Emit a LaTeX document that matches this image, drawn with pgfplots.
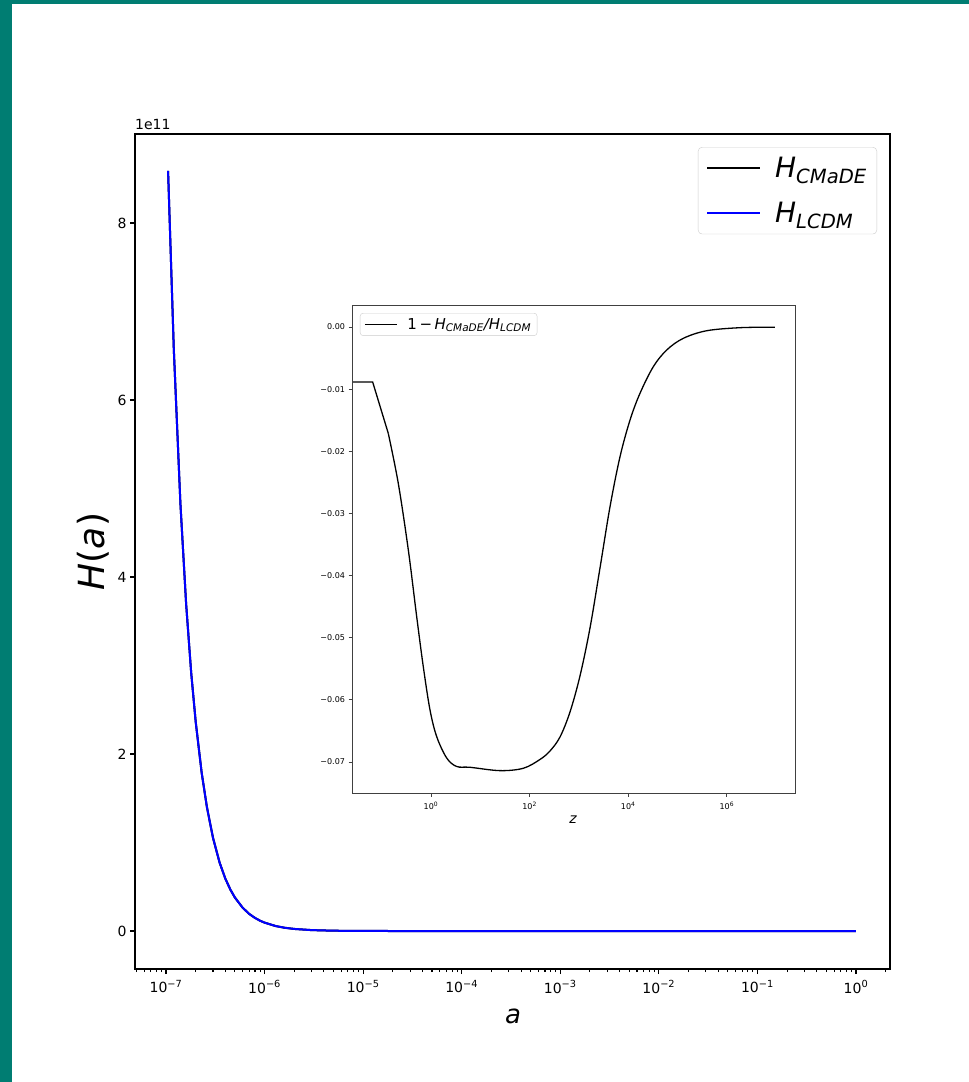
\documentclass[border=0pt]{standalone}
\usepackage{pgfplots}
\pgfplotsset{compat=1.18}
\usepackage{amsmath}
\usepackage{fontspec}
\setmainfont{DejaVu Sans}
\definecolor{teal2}{RGB}{0,125,114}
\definecolor{lgray}{gray}{0.8}
\newcommand{\fs}[1]{\fontsize{#1}{#1}\selectfont}
\newcommand{\Hs}[1]{\textit{H}$_{\text{\itshape #1}}$}
\newcommand{\tp}[1]{10$^{\text{#1}}$}
\begin{document}
\begin{tikzpicture}[x=1pt,y=1pt]
\fill[white] (0,0) rectangle (969,-1082);
\fill[teal2] (0,0) rectangle (969,-4);
\fill[teal2] (0,0) rectangle (12,-1082);
\begin{axis}[at={(135pt,-969pt)}, anchor=south west, width=755pt, height=835pt, scale only axis,
  clip=false,
  xmode=log, xmin=4.847e-8, xmax=2.213, ymin=-0.429e11, ymax=9.006e11,
  xtick={1e-7,1e-6,1e-5,1e-4,1e-3,1e-2,1e-1,1},
  xticklabels={\tp{−7},\tp{−6},\tp{−5},\tp{−4},\tp{−3},\tp{−2},\tp{−1},\tp{0}},
  minor xtick={5e-8,6e-8,7e-8,8e-8,9e-8,
    2e-7,3e-7,4e-7,5e-7,6e-7,7e-7,8e-7,9e-7,
    2e-6,3e-6,4e-6,5e-6,6e-6,7e-6,8e-6,9e-6,
    2e-5,3e-5,4e-5,5e-5,6e-5,7e-5,8e-5,9e-5,
    2e-4,3e-4,4e-4,5e-4,6e-4,7e-4,8e-4,9e-4,
    2e-3,3e-3,4e-3,5e-3,6e-3,7e-3,8e-3,9e-3,
    2e-2,3e-2,4e-2,5e-2,6e-2,7e-2,8e-2,9e-2,
    0.2,0.3,0.4,0.5,0.6,0.7,0.8,0.9,2},
  scaled y ticks=false,
  ytick={0,2e11,4e11,6e11,8e11}, yticklabels={0,2,4,6,8},
  xtick pos=bottom, ytick pos=left, tick align=outside,
  major tick length=5pt, minor tick length=3pt,
  tick style={black, line width=1.1pt},
  axis line style={line width=1.1pt},
  ticklabel style={font=\fs{14}},
  xticklabel style={yshift=-3pt},
  xlabel={\textit{a}}, ylabel={\textit{H}(\textit{a})},
  xlabel style={font=\fs{26}, at={(axis description cs:0.5007,-0.0563)}, anchor=center},
  ylabel style={font=\fs{36}, at={(axis description cs:-0.0556,0.5)}, anchor=center, rotate=0},
  legend style={at={(rel axis cs:0.9828,0.9844)}, anchor=north east, draw=lgray, rounded corners=4pt,
    fill=white, font=\fs{28}, inner xsep=8pt, inner ysep=8pt, row sep=19pt,
    /tikz/every odd column/.append style={column sep=12pt}},
  legend cell align=left,
  legend image code/.code={\draw[#1] (0pt,0pt) -- (53pt,0pt);},
]
\addplot[black, line width=2pt] coordinates {
(1.05e-7,8.590e11) (1.2e-7,6.576e11) (1.4e-7,4.832e11) (1.6e-7,3.699e11) (1.8e-7,2.923e11)
(2e-7,2.368e11) (2.3e-7,1.790e11) (2.6e-7,1.401e11) (3e-7,1.052e11) (3.5e-7,7.73e10)
(4e-7,5.92e10) (4.5e-7,4.68e10) (5e-7,3.79e10) (6e-7,2.63e10) (7e-7,1.93e10)
(8e-7,1.48e10) (9e-7,1.17e10) (1e-6,9.49e9) (1.3e-6,5.61e9) (1.6e-6,3.71e9)
(2e-6,2.38e9) (3e-6,1.06e9) (5e-6,3.83e8) (1e-5,9.65e7) (3e-5,1.11e7)
(1e-4,1.12e6) (1e-3,2.08e4) (1e-2,595) (1e-1,18.5) (1,1.0)};
\addlegendentry{\Hs{CMaDE}}
\addplot[blue, line width=2pt] coordinates {
(1.05e-7,8.590e11) (1.2e-7,6.576e11) (1.4e-7,4.832e11) (1.6e-7,3.699e11) (1.8e-7,2.923e11)
(2e-7,2.368e11) (2.3e-7,1.790e11) (2.6e-7,1.401e11) (3e-7,1.052e11) (3.5e-7,7.73e10)
(4e-7,5.92e10) (4.5e-7,4.68e10) (5e-7,3.79e10) (6e-7,2.63e10) (7e-7,1.93e10)
(8e-7,1.48e10) (9e-7,1.17e10) (1e-6,9.49e9) (1.3e-6,5.61e9) (1.6e-6,3.71e9)
(2e-6,2.38e9) (3e-6,1.06e9) (5e-6,3.82e8) (1e-5,9.63e7) (3e-5,1.10e7)
(1e-4,1.09e6) (1e-3,1.97e4) (1e-2,555) (1e-1,17.3) (1,1.0)};
\addlegendentry{\Hs{LCDM}}
\node[anchor=south west, font=\fs{14}, inner sep=0pt] at (rel axis cs:0,1) [yshift=4pt] {1e11};
\end{axis}
\begin{axis}[at={(352pt,-793pt)}, anchor=south west, width=443pt, height=488pt, scale only axis,
  axis background/.style={fill=white},
  xmode=log, xmin=0.025, xmax=2.415e7, ymin=-0.075, ymax=0.00354,
  scaled y ticks=false,
  xtick={1,100,1e4,1e6}, xticklabels={\tp{0},\tp{2},\tp{4},\tp{6}},
  minor xtick={},
  ytick={-0.07,-0.06,-0.05,-0.04,-0.03,-0.02,-0.01,0},
  yticklabels={−0.07,−0.06,−0.05,−0.04,−0.03,−0.02,−0.01,0.00},
  xtick pos=bottom, ytick pos=left, tick align=outside,
  major tick length=3.5pt,
  tick style={black!75, line width=0.8pt},
  axis line style={black!75, line width=0.8pt},
  ticklabel style={font=\fs{8}},
  xticklabel style={yshift=-2pt},
  xlabel={\textit{z}},
  xlabel style={font=\fs{14}, at={(axis description cs:0.499,-0.0553)}, anchor=center},
  legend style={at={(rel axis cs:0.018,0.9836)}, anchor=north west, draw=lgray, rounded corners=3pt,
    fill=white, font=\fs{15}, inner xsep=4pt, inner ysep=3pt,
    /tikz/every odd column/.append style={column sep=8pt}},
  legend image code/.code={\draw[#1] (0pt,0pt) -- (32pt,0pt);},
]
\addplot[black, line width=1.3pt] coordinates {
(0.0262,-0.00885) (0.0656,-0.00885) (0.136,-0.01711)};
\addlegendentry{1\,−\,\textit{H}$_{\text{\itshape CMaDE}}$\textit{/H}$_{\text{\itshape LCDM}}$}
\addplot[black, line width=1.3pt, smooth, tension=0.55, forget plot] coordinates {
(0.136,-0.01711) (0.217,-0.02515) (0.347,-0.03589)
(0.513,-0.04662) (0.698,-0.05467) (0.955,-0.06163) (1.306,-0.06593) (2.080,-0.06936)
(3.319,-0.07073) (6.18,-0.07086) (25.1,-0.07140) (74.5,-0.07102) (162.5,-0.06960)
(259.4,-0.06823) (414,-0.06598) (659.7,-0.06196) (1052,-0.05616) (1679,-0.04844)
(2679,-0.03878)
(4276,-0.02892) (6823,-0.02087) (10890,-0.01497) (17340,-0.01067) (32280,-0.00639)
(60390,-0.00370) (131200,-0.00182) (390800,-0.00060) (1854000,-0.00011) (9484000,-0.00003)};
\end{axis}
\end{tikzpicture}
\end{document}
